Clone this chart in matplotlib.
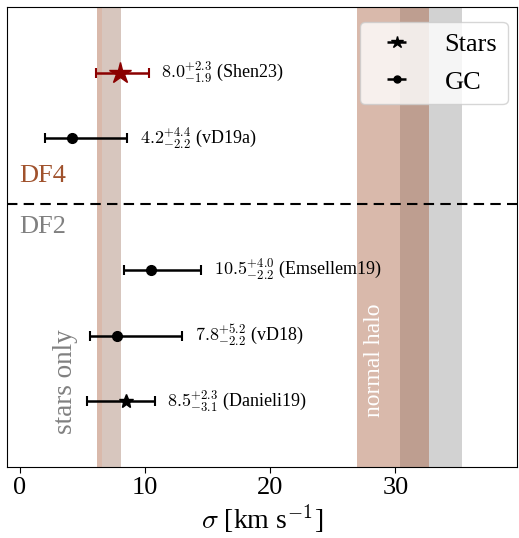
import matplotlib
matplotlib.use("Agg")
import matplotlib.pyplot as plt
from matplotlib.legend_handler import HandlerErrorbar

plt.rcParams['font.family'] = ['Liberation Serif', 'DejaVu Serif']
plt.rcParams['mathtext.fontset'] = 'cm'

# data
labels = ['Shen23', 'vD19a', 'Emsellem19', 'vD18', 'Danieli19']
values = [8.0, 4.2, 10.5, 7.8, 8.5]
err_up = [2.3, 4.4, 4.0, 5.2, 2.3]
err_lo = [1.9, 2.2, 2.2, 2.2, 3.1]
ypos = [6, 5, 3, 2, 1]
kinds = ['Stars', 'GC', 'GC', 'GC', 'Stars']
colors = ['darkred', 'black', 'black', 'black', 'black']

stars_only_pink = (6.15, 6.6)
stars_only_grey = (6.6, 8.06)
halo_pink = (26.9, 32.7)
halo_grey = (30.4, 35.35)
divider_y = 4

fig, ax = plt.subplots(figsize=(5.19, 5.38), dpi=100)
fig.subplots_adjust(left=0.0135, right=0.996, top=0.987, bottom=0.132)

ax.axvspan(*stars_only_pink, color='sienna', alpha=0.4, lw=0)
ax.axvspan(*stars_only_grey, color='#d7c6be', lw=0)
ax.axvspan(*halo_grey, color='grey', alpha=0.35, lw=0)
ax.axvspan(*halo_pink, color='sienna', alpha=0.4, lw=0)

for lab, v, u, l, y, k, c in zip(labels, values, err_up, err_lo, ypos, kinds, colors):
    if k == 'Stars':
        ms = 16 if c == 'darkred' else 10
        mk = '*'
    else:
        ms = 7
        mk = 'o'
    ax.errorbar(v, y, xerr=[[l], [u]], fmt=mk, color=c, ms=ms, capsize=3.5,
                elinewidth=1.8, capthick=1.5, zorder=5)
    ax.text(v + u + 1.0, y,
            r'$%.1f^{+%.1f}_{-%.1f}$ (%s)' % (v, u, l, lab),
            fontsize=13, va='center', ha='left')

ax.axhline(divider_y, color='black', ls='--', lw=1.5, dashes=(5, 3))
ax.text(0.0, 4.43, 'DF4', color='sienna', fontsize=19, va='center', ha='left')
ax.text(0.0, 3.65, 'DF2', color='grey', fontsize=19, va='center', ha='left')
ax.text(3.7, 1.3, 'stars only', color='grey', fontsize=19.5, rotation=90,
        va='center', ha='center')
ax.text(28.3, 1.62, 'normal halo', color='white', fontsize=17, rotation=90,
        va='center', ha='center')

# legend handles
h1 = ax.errorbar([], [], xerr=[[1], [1]], fmt='*', color='black', ms=9, capsize=3,
                 elinewidth=1.8, capthick=1.5)
h2 = ax.errorbar([], [], xerr=[[1], [1]], fmt='o', color='black', ms=5, capsize=3,
                 elinewidth=1.8, capthick=1.5)
hm = HandlerErrorbar(xerr_size=0.36)
ax.legend([h1, h2], ['Stars', 'GC'], loc='upper right', fontsize=19,
          bbox_to_anchor=(0.982, 0.968), borderaxespad=0,
          labelspacing=0.55, handler_map={h1: hm, h2: hm})

ax.set_xlim(-1.0, 39.7)
ax.set_ylim(0, 7)
ax.set_yticks([])
ax.set_xticks([0, 10, 20, 30])
ax.tick_params(axis='x', labelsize=19, direction='out', length=4)
ax.set_xlabel(r'$\sigma$ [km s$^{-1}$]', fontsize=20, labelpad=2)

fig.savefig('out.png', dpi=100)
